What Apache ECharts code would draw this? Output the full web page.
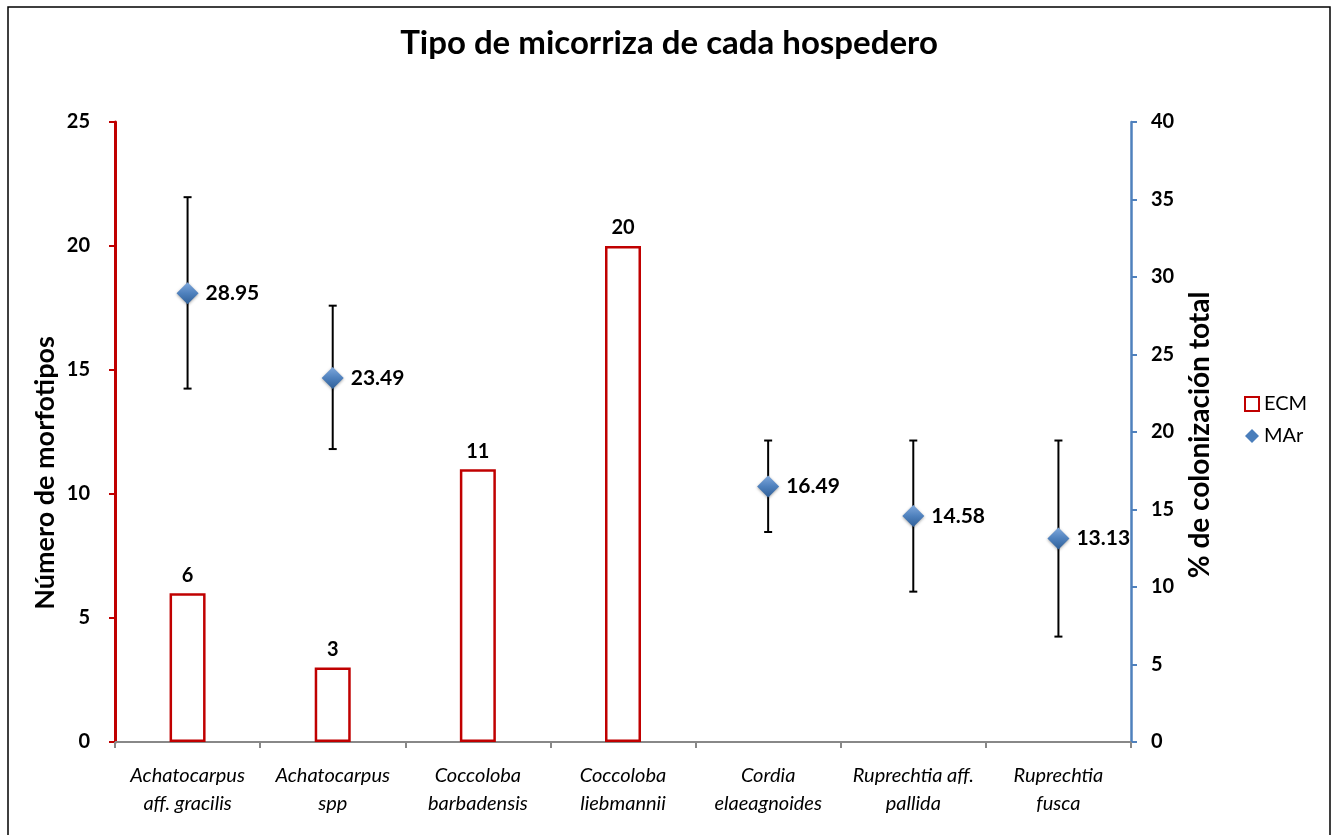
<!DOCTYPE html>
<html>
<head>
<meta charset="utf-8">
<script src="https://cdn.jsdelivr.net/npm/echarts@6/dist/echarts.min.js"></script>
<style>
html,body{margin:0;padding:0;background:#fff;}
#chart{width:1338px;height:835px;}
</style>
</head>
<body>
<div id="chart"></div>
<script>
const categories = ["Achatocarpus\naff. gracilis", "Achatocarpus\nspp", "Coccoloba\nbarbadensis", "Coccoloba\nliebmannii", "Cordia\nelaeagnoides", "Ruprechtia aff.\npallida", "Ruprechtia\nfusca"];
const ecmValues = [6, 3, 11, 20, null, null, null];
const marValues = [28.95, 23.49, null, null, 16.49, 14.58, 13.13];
const marLow = [22.8, 18.9, null, null, 13.55, 9.7, 6.8];
const marHigh = [35.15, 28.15, null, null, 19.45, 19.45, 19.45];
const leftTicks = [0, 5, 10, 15, 20, 25];
const rightTicks = [0, 5, 10, 15, 20, 25, 30, 35, 40];

const FONT = 'Lato';
const chart = echarts.init(document.getElementById('chart'));

const errData = categories.map((c, i) => [i, marLow[i], marHigh[i]]).filter(d => d[1] != null);

chart.setOption({
  animation: false,
  backgroundColor: '#fff',
  textStyle: {fontFamily: FONT},
  title: {
    text: 'Tipo de micorriza de cada hospedero',
    left: 'center', top: 22,
    textStyle: {fontFamily: FONT, fontSize: 33, fontWeight: 'bold', color: '#000'}
  },
  graphic: [{
    type: 'rect', shape: {x: 8, y: 7, width: 1322, height: 840},
    style: {fill: 'none', stroke: '#000', lineWidth: 1.5}, silent: true
  }, {
    type: 'text', x: 45, y: 473, rotation: Math.PI / 2, silent: true,
    style: {text: 'Número de morfotipos', fontFamily: FONT, fontSize: 27, fontWeight: 'bold', fill: '#000',
      textAlign: 'center', textVerticalAlign: 'middle'}
  }, {
    type: 'text', x: 1200, y: 435, rotation: Math.PI / 2, silent: true,
    style: {text: '% de colonización total', fontFamily: FONT, fontSize: 28, fontWeight: 'bold', fill: '#000',
      textAlign: 'center', textVerticalAlign: 'middle'}
  }],
  legend: {
    orient: 'vertical', left: 1239, top: 389, itemGap: 12,
    itemWidth: 14, itemHeight: 14,
    textStyle: {fontFamily: FONT, fontSize: 20, color: '#000'},
    data: [
      {name: 'ECM', icon: 'rect', itemStyle: {color: '#fff', borderColor: '#c00000', borderWidth: 2}},
      {name: 'MAr', icon: 'diamond', itemStyle: {color: '#4a7ebb', opacity: 1}}
    ]
  },
  grid: {left: 115, right: 207, top: 122, bottom: 93},
  xAxis: {
    type: 'category', data: categories,
    axisLine: {lineStyle: {color: '#888', width: 2}},
    axisTick: {show: true, length: 6, alignWithLabel: false, lineStyle: {color: '#888', width: 2}},
    axisLabel: {fontFamily: FONT, fontSize: 20, fontStyle: 'italic', color: '#000', lineHeight: 28, margin: 20, interval: 0}
  },
  yAxis: [{
    type: 'value', min: 0, max: 25, interval: 5,
    axisLine: {show: true, lineStyle: {color: '#c00000', width: 3}},
    axisTick: {show: true, length: 6, lineStyle: {color: '#c00000', width: 2}},
    splitLine: {show: false},
    axisLabel: {fontFamily: FONT, fontSize: 20, fontWeight: 'bold', color: '#000', margin: 25,
      formatter: v => leftTicks.includes(v) ? String(v) : ''}
  }, {
    type: 'value', min: 0, max: 40, interval: 5, position: 'right',
    axisLine: {show: true, lineStyle: {color: '#4f81bd', width: 2.5}},
    axisTick: {show: true, length: 6, lineStyle: {color: '#4f81bd', width: 2}},
    splitLine: {show: false},
    axisLabel: {fontFamily: FONT, fontSize: 20, fontWeight: 'bold', color: '#000', margin: 20,
      formatter: v => rightTicks.includes(v) ? String(v) : ''}
  }],
  series: [{
    name: 'ECM', type: 'bar', yAxisIndex: 0, data: ecmValues, barWidth: 36,
    itemStyle: {color: '#fff', borderColor: '#c00000', borderWidth: 2.5},
    label: {show: true, position: 'top', distance: 8, fontFamily: FONT, fontSize: 20, fontWeight: 'bold', color: '#000'}
  }, {
    name: 'err', type: 'custom', yAxisIndex: 1, data: errData, z: 3,
    renderItem: function (params, api) {
      const x = api.value(0);
      const lo = api.coord([x, api.value(1)]);
      const hi = api.coord([x, api.value(2)]);
      const w = 4;
      const st = {stroke: '#000', lineWidth: 2};
      return {type: 'group', children: [
        {type: 'line', shape: {x1: lo[0], y1: lo[1], x2: hi[0], y2: hi[1]}, style: st},
        {type: 'line', shape: {x1: lo[0] - w, y1: lo[1], x2: lo[0] + w, y2: lo[1]}, style: st},
        {type: 'line', shape: {x1: hi[0] - w, y1: hi[1], x2: hi[0] + w, y2: hi[1]}, style: st}
      ]};
    },
    encode: {x: 0, y: [1, 2]}
  }, {
    name: 'MAr', type: 'scatter', yAxisIndex: 1, data: marValues, z: 5,
    symbol: 'diamond', symbolSize: 22,
    itemStyle: {
      opacity: 1,
      color: new echarts.graphic.LinearGradient(0, 0, 0, 1, [
        {offset: 0, color: '#7fa8dc'}, {offset: 0.5, color: '#4f81bd'}, {offset: 1, color: '#2f5f98'}
      ]),
      shadowColor: 'rgba(0,0,0,0.35)', shadowBlur: 3, shadowOffsetY: 1
    },
    label: {show: true, position: 'right', distance: 7, fontFamily: FONT, fontSize: 21, fontWeight: 'bold', color: '#000', opacity: 1,
      formatter: p => p.value.toFixed(2)}
  }]
});
</script>
</body>
</html>
